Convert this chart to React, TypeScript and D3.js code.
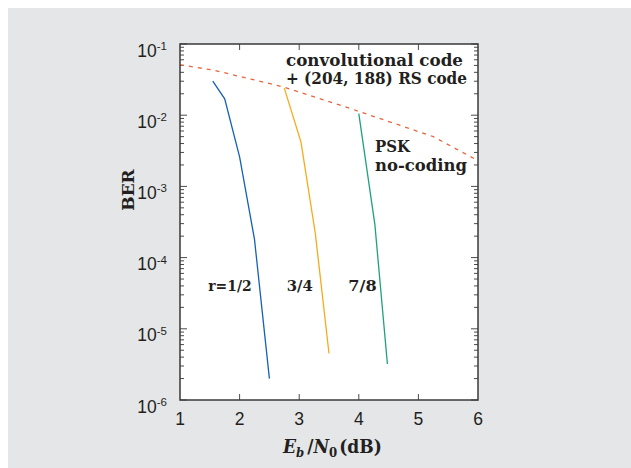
import React from "react";
import * as d3 from "d3";

// BER vs Eb/N0 curves
const rate12 = [
  { x: 1.55, y: 3.0e-2 },
  { x: 1.75, y: 1.7e-2 },
  { x: 2.0, y: 2.6e-3 },
  { x: 2.25, y: 1.8e-4 },
  { x: 2.5, y: 2.0e-6 },
];
const rate34 = [
  { x: 2.75, y: 2.4e-2 },
  { x: 3.03, y: 4.2e-3 },
  { x: 3.27, y: 2.2e-4 },
  { x: 3.5, y: 4.5e-6 },
];
const rate78 = [
  { x: 4.0, y: 1.05e-2 },
  { x: 4.27, y: 2.9e-4 },
  { x: 4.48, y: 3.2e-6 },
];
const pskNoCoding = [
  { x: 1.0, y: 5.1e-2 },
  { x: 1.56, y: 4.3e-2 },
  { x: 2.73, y: 2.5e-2 },
  { x: 3.91, y: 1.2e-2 },
  { x: 5.25, y: 5.0e-3 },
  { x: 6.0, y: 2.3e-3 },
];

const xTicks = [1, 2, 3, 4, 5, 6];
const yExps = [-1, -2, -3, -4, -5, -6];

const W = 623;
const H = 460;
const margin = { left: 172, right: 153, top: 36, bottom: 68 };

const serif = "'DejaVu Serif', serif";
const serifC = "'DejaVu Serif Condensed', 'DejaVu Serif', serif";
const sans = "'Liberation Sans', Arial, sans-serif";
const ink = "#231f20";

export default function App() {
  const x = d3.scaleLinear().domain([1, 6]).range([margin.left, W - margin.right]);
  const y = d3.scaleLog().domain([1e-6, 1e-1]).range([H - margin.bottom, margin.top]);
  const line = d3
    .line<{ x: number; y: number }>()
    .x((d) => x(d.x))
    .y((d) => y(d.y));

  const x0 = x(1);
  const x1 = x(6);
  const yTop = y(1e-1);
  const yBot = y(1e-6);

  // minor log ticks 2..9 in each decade
  const minor: number[] = [];
  for (let e = -6; e < -1; e++) {
    for (let k = 2; k <= 9; k++) minor.push(k * Math.pow(10, e));
  }

  return (
    <svg
      width={W}
      height={H}
      style={{ position: "absolute", left: 8, top: 8, display: "block" }}
    >
      <rect width={W} height={H} fill="#e5e6e8" />
      <rect x={x0} y={yTop} width={x1 - x0} height={yBot - yTop} fill="#ffffff" />

      {/* ticks */}
      <g stroke="#4a4a4a" strokeWidth={1}>
        {minor.map((v, i) => (
          <g key={"m" + i}>
            <line x1={x0} x2={x0 + 4} y1={y(v)} y2={y(v)} />
            <line x1={x1} x2={x1 - 4} y1={y(v)} y2={y(v)} />
          </g>
        ))}
        {yExps.map((e) => (
          <g key={"M" + e}>
            <line x1={x0} x2={x0 + 7} y1={y(Math.pow(10, e))} y2={y(Math.pow(10, e))} />
            <line x1={x1} x2={x1 - 7} y1={y(Math.pow(10, e))} y2={y(Math.pow(10, e))} />
          </g>
        ))}
        {xTicks.slice(1, -1).map((t) => (
          <g key={"x" + t}>
            <line x1={x(t)} x2={x(t)} y1={yTop} y2={yTop + 6} />
            <line x1={x(t)} x2={x(t)} y1={yBot} y2={yBot - 6} />
          </g>
        ))}
      </g>

      {/* curves */}
      <path d={line(pskNoCoding) ?? ""} fill="none" stroke="#e8643c" strokeWidth={1.3} strokeDasharray="4,5" />
      <path d={line(rate12) ?? ""} fill="none" stroke="#1560b8" strokeWidth={1.3} />
      <path d={line(rate34) ?? ""} fill="none" stroke="#f8aa1c" strokeWidth={1.3} />
      <path d={line(rate78) ?? ""} fill="none" stroke="#1fa27c" strokeWidth={1.3} />

      <rect x={x0} y={yTop} width={x1 - x0} height={yBot - yTop} fill="none" stroke="#3a3a3a" strokeWidth={1.5} />

      {/* y tick labels */}
      {yExps.map((e) => (
        <text key={"yl" + e} x={x0 - 13} y={y(Math.pow(10, e)) + 12.5} textAnchor="end" fontFamily={sans} fontSize={17.5} fill={ink}>
          10
          <tspan dy={-6.5} fontSize={11.5}>
            {"-" + Math.abs(e)}
          </tspan>
        </text>
      ))}
      {/* x tick labels */}
      {xTicks.map((t) => (
        <text key={"xl" + t} x={x(t)} y={yBot + 24.5} textAnchor="middle" fontFamily={sans} fontSize={17.5} fill={ink}>
          {t}
        </text>
      ))}

      {/* axis titles */}
      <text
        transform={`translate(125.5, 182) rotate(-90)`}
        textAnchor="middle"
        fontFamily={serif}
        fontWeight="bold"
        fontSize={17}
        fill={ink}
      >
        BER
      </text>
      <text x={275} y={445} fontFamily={serifC} fontWeight="bold" fontSize={19} fill={ink}>
        <tspan fontStyle="italic">E</tspan>
        <tspan fontStyle="italic" fontSize={13} dy={4}>b</tspan>
        <tspan dy={-4} dx={3}>/</tspan>
        <tspan fontStyle="italic">N</tspan>
        <tspan fontSize={13} dy={4}>0</tspan>
        <tspan dy={-4} dx={2}>(dB)</tspan>
      </text>

      {/* annotations */}
      <g fontFamily={serif} fontWeight="bold" fontSize={16.5} fill={ink}>
        <text x={278} y={57.5} textLength={177} lengthAdjust="spacingAndGlyphs">convolutional code</text>
        <text x={278} y={75.5} textLength={181} lengthAdjust="spacingAndGlyphs">+ (204, 188) RS code</text>
        <text x={367} y={143.5} textLength={35} lengthAdjust="spacingAndGlyphs">PSK</text>
        <text x={367} y={162.5} textLength={92} lengthAdjust="spacingAndGlyphs">no-coding</text>
        <text x={200.3} y={282.5} fontSize={15} textLength={43.4} lengthAdjust="spacingAndGlyphs">r=1/2</text>
        <text x={278.7} y={282.5} fontSize={15} textLength={26} lengthAdjust="spacingAndGlyphs">3/4</text>
        <text x={340.3} y={282.5} fontSize={15} textLength={28.4} lengthAdjust="spacingAndGlyphs">7/8</text>
      </g>
    </svg>
  );
}
